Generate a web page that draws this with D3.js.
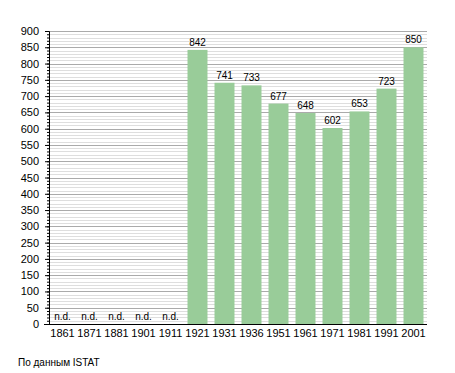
<!DOCTYPE html>
<html>
<head>
<meta charset="utf-8">
<script src="https://cdn.jsdelivr.net/npm/d3@7"></script>
<style>
  body { margin: 0; background: #fff; }
  text { font-family: "Liberation Sans", Arial, sans-serif; }
</style>
</head>
<body>
<div id="chart"></div>
<script>

var years = ["1861","1871","1881","1901","1911","1921","1931","1936","1951","1961","1971","1981","1991","2001"]
// null = n.d. (no data)
var population = [null, null, null, null, null, 842, 741, 733, 677, 648, 602, 653, 723, 850]
var yTicks = d3.range(0, 901, 50)
var source = "По данным  ISTAT"

var width = 455, height = 373
var margin = {top: 31, right: 28, bottom: 49, left: 49}
var innerW = width - margin.left - margin.right
var innerH = height - margin.top - margin.bottom

var svg = d3.select("#chart").append("svg")
  .attr("width", width)
  .attr("height", height)

var g = svg.append("g")
  .attr("transform", `translate(${margin.left},${margin.top})`)

var x = d3.scaleBand()
  .domain(years)
  .range([0, innerW])
  .paddingInner(0.26)
  .paddingOuter(0.13)

var y = d3.scaleLinear()
  .domain([0, 900])
  .range([innerH, 0])

// minor grid every 10
g.selectAll(".minor")
  .data(d3.range(10, 901, 10).filter(d => d % 50 != 0))
  .enter().append("line")
  .attr("x1", 0).attr("x2", innerW)
  .attr("y1", d => Math.round(y(d)) + 0.5)
  .attr("y2", d => Math.round(y(d)) + 0.5)
  .attr("stroke", "#dedede")
  .attr("stroke-width", 1)

// major grid every 50
g.selectAll(".major")
  .data(yTicks.filter(d => d > 0))
  .enter().append("line")
  .attr("x1", 0).attr("x2", innerW)
  .attr("y1", d => Math.round(y(d)) + 0.5)
  .attr("y2", d => Math.round(y(d)) + 0.5)
  .attr("stroke", "#aaaaaa")
  .attr("stroke-width", 1)

// bars
g.selectAll(".bar")
  .data(years.map((d, i) => ({year: d, value: population[i]})).filter(d => d.value != null))
  .enter().append("rect")
  .attr("class", "bar")
  .attr("x", d => x(d.year))
  .attr("width", x.bandwidth())
  .attr("y", d => y(d.value))
  .attr("height", d => innerH - y(d.value))
  .attr("fill", "#99cc99")

// value labels
g.selectAll(".val")
  .data(years.map((d, i) => ({year: d, value: population[i]})))
  .enter().append("text")
  .attr("x", d => x(d.year) + x.bandwidth() / 2)
  .attr("y", d => d.value == null ? innerH - 4 : y(d.value) - 4)
  .attr("text-anchor", "middle")
  .style("font-size", "10px")
  .attr("fill", "#000")
  .text(d => d.value == null ? "n.d." : d.value)

// y axis with minor ticks
var yAxis = d3.axisLeft(y).tickValues(yTicks).tickSize(4).tickPadding(6)
var ya = g.append("g").call(yAxis)
ya.selectAll("text").style("font-size", "11px").attr("fill", "#000")
ya.select(".domain").attr("stroke", "#000")

g.append("g")
  .call(d3.axisLeft(y).tickValues(d3.range(0, 901, 10)).tickSize(2).tickFormat(""))
  .select(".domain").remove()

// x axis
var xa = g.append("g")
  .attr("transform", `translate(0,${innerH})`)
  .call(d3.axisBottom(x).tickSize(0).tickPadding(5))
xa.selectAll("text").style("font-size", "11px").attr("fill", "#000")
xa.select(".domain").attr("stroke", "#000").attr("d", `M-5,0.5H${innerW}`)

svg.append("text")
  .attr("x", 18)
  .attr("y", 366)
  .style("font-size", "10px")
  .attr("fill", "#000")
  .text(source)

</script>
</body>
</html>
